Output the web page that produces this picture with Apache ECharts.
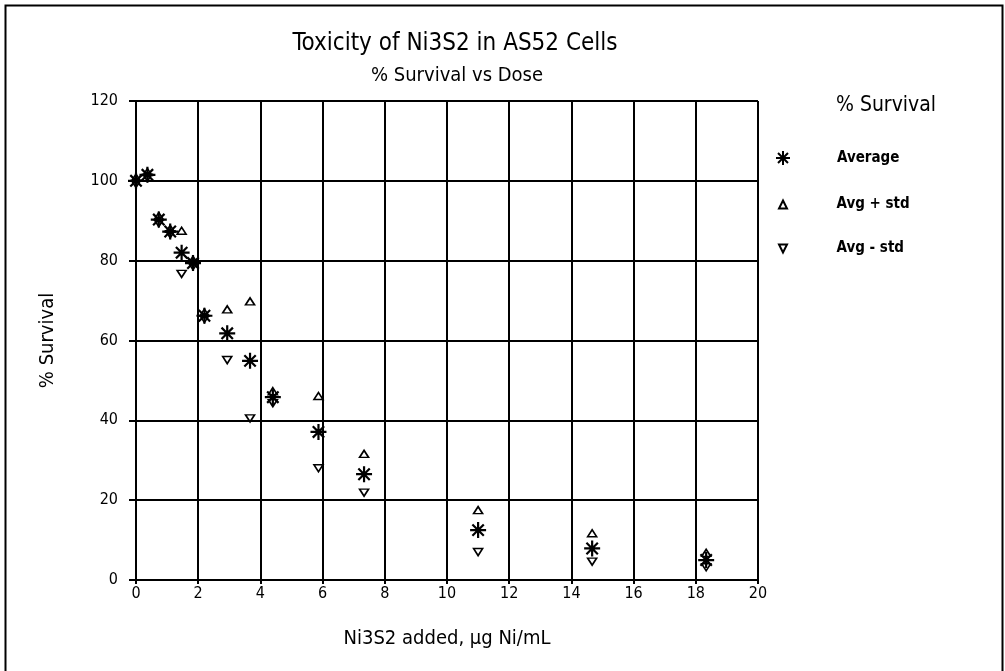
<!DOCTYPE html>
<html>
<head>
<meta charset="utf-8">
<script src="https://cdn.jsdelivr.net/npm/echarts@6/dist/echarts.min.js"></script>
<style>
html,body{margin:0;padding:0;background:#fff;}
#chart{width:1005px;height:671px;}
</style>
</head>
<body>
<div id="chart"></div>
<script>
var dose = [0, 0.367, 0.733, 1.1, 1.467, 1.833, 2.2, 2.933, 3.667, 4.4, 5.867, 7.333, 11, 14.667, 18.333];
var average = [100, 101.5, 90.3, 87.3, 82, 79.4, 66.2, 61.8, 54.9, 45.8, 37.1, 26.5, 12.5, 7.9, 5.0];
var avgPlusStd = [100.8, 102.2, 91.2, 88, 87.5, 80.2, 67, 67.8, 69.8, 47.3, 46.1, 31.6, 17.5, 11.7, 6.8];
var avgMinusStd = [99.2, 100.8, 89.4, 86.6, 76.7, 78.6, 65.4, 55.1, 40.5, 44.3, 28, 21.9, 7, 4.6, 3.2];
var seriesNames = ['Average', 'Avg + std', 'Avg - std'];
var xTicks = [0, 2, 4, 6, 8, 10, 12, 14, 16, 18, 20];
var yTicks = [0, 20, 40, 60, 80, 100, 120];

var FONT = "'Liberation Sans Narrow', 'DejaVu Sans Condensed', 'Arial Narrow', sans-serif";
function pairs(xs, ys){ return xs.map(function(x,i){ return [x, ys[i]]; }); }
var asterisk = 'path://M0,-8L0,8M-8,0L8,0M-5.7,-5.7L5.7,5.7M-5.7,5.7L5.7,-5.7';
var triUp = 'path://M0,-1L1,1L-1,1Z';
var triDown = 'path://M-1,-1L1,-1L0,1Z';
var legendText = {fontFamily: FONT, fontSize: 15, fontWeight: 'bold', color: '#000'};

var chart = echarts.init(document.getElementById('chart'));
chart.setOption({
  backgroundColor: '#fff',
  animation: false,
  title: [
    {text: 'Toxicity of Ni3S2 in AS52 Cells', left: 450, top: 27, textAlign: 'center',
     textStyle: {fontFamily: FONT, fontSize: 24, fontWeight: 'normal', color: '#000'}},
    {text: '% Survival vs Dose', left: 452, top: 61, textAlign: 'center',
     textStyle: {fontFamily: FONT, fontSize: 20, fontWeight: 'normal', color: '#000'}},
    {text: '% Survival', left: 881, top: 90, textAlign: 'center',
     textStyle: {fontFamily: FONT, fontSize: 21, fontWeight: 'normal', color: '#000'}}
  ],
  legend: [
    {orient: 'vertical', left: 770, top: 145, itemWidth: 14, itemHeight: 14,
     data: [seriesNames[0]], textStyle: Object.assign({padding: [0,0,0,42]}, legendText)},
    {orient: 'vertical', left: 773, top: 192, itemWidth: 9, itemHeight: 8,
     data: [seriesNames[1]], textStyle: Object.assign({padding: [0,0,0,44]}, legendText)},
    {orient: 'vertical', left: 773, top: 236, itemWidth: 9, itemHeight: 8,
     data: [seriesNames[2]], textStyle: Object.assign({padding: [0,0,0,44]}, legendText)}
  ],
  grid: {left: 136, right: 247, top: 101, bottom: 91},
  xAxis: {
    type: 'value', min: xTicks[0], max: xTicks[xTicks.length-1], interval: 2,
    name: 'Ni3S2 added, µg Ni/mL', nameLocation: 'middle', nameGap: 49,
    nameTextStyle: {fontFamily: FONT, fontSize: 20, color: '#000'},
    axisLine: {lineStyle: {color: '#000', width: 2}},
    axisTick: {show: true, length: 4, lineStyle: {color: '#000', width: 2}},
    axisLabel: {fontFamily: FONT, fontSize: 16, color: '#000', margin: 6},
    splitLine: {show: true, lineStyle: {color: '#000', width: 2}}
  },
  yAxis: {
    type: 'value', min: yTicks[0], max: yTicks[yTicks.length-1], interval: 20,
    name: '% Survival', nameLocation: 'middle', nameGap: 78,
    nameTextStyle: {fontFamily: FONT, fontSize: 20, color: '#000'},
    axisLine: {lineStyle: {color: '#000', width: 2}},
    axisTick: {show: true, length: 7, lineStyle: {color: '#000', width: 2}},
    axisLabel: {fontFamily: FONT, fontSize: 16, color: '#000', margin: 18},
    splitLine: {show: true, lineStyle: {color: '#000', width: 2}}
  },
  series: [
    {name: seriesNames[0], type: 'scatter', data: pairs(dose, average),
     symbol: asterisk, symbolSize: 16,
     itemStyle: {color: 'rgba(0,0,0,0)', borderColor: '#000', borderWidth: 2.2, opacity: 1}},
    {name: seriesNames[1], type: 'scatter', data: pairs(dose, avgPlusStd),
     symbol: triUp, symbolSize: [9, 7],
     itemStyle: {color: 'rgba(0,0,0,0)', borderColor: '#000', borderWidth: 1.6, opacity: 1}},
    {name: seriesNames[2], type: 'scatter', data: pairs(dose, avgMinusStd),
     symbol: triDown, symbolSize: [9, 7],
     itemStyle: {color: 'rgba(0,0,0,0)', borderColor: '#000', borderWidth: 1.6, opacity: 1}}
  ],
  graphic: [
    {type: 'rect', left: 3, top: 3, shape: {width: 997, height: 720},
     style: {fill: 'none', stroke: '#000', lineWidth: 2}, silent: true}
  ]
});
</script>
</body>
</html>
